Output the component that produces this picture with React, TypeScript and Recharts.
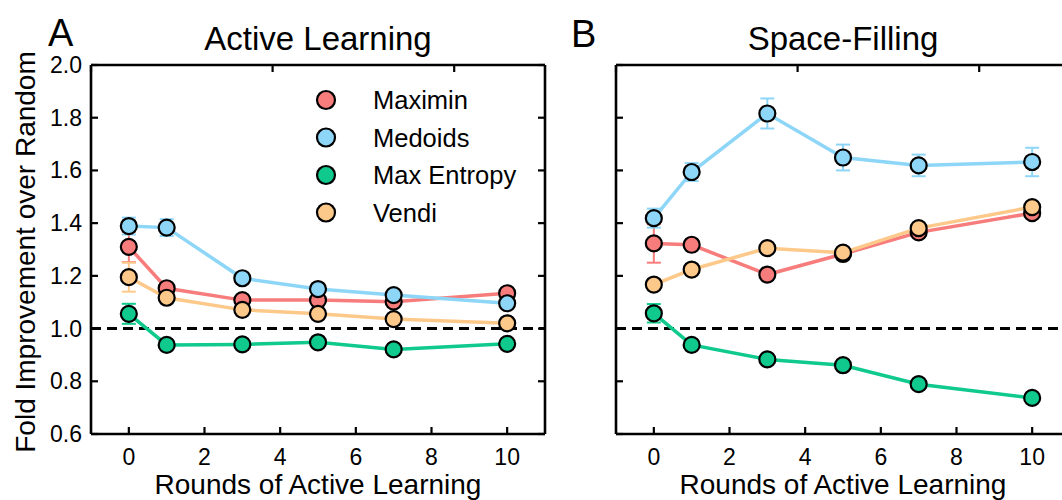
import React from 'react';
import { LineChart, Line, XAxis, YAxis, ReferenceLine, ErrorBar } from 'recharts';

const rounds = [0, 1, 3, 5, 7, 10];
const seriesNames = ['Maximin', 'Medoids', 'Max Entropy', 'Vendi'];
const seriesKeys = ['maximin', 'medoids', 'maxEntropy', 'vendi'];
const seriesColors = ['#F77C7C', '#8DD6F7', '#0FC98D', '#FDC98A'];
const xTicks = [0, 2, 4, 6, 8, 10];
const yTicks = [0.6, 0.8, 1.0, 1.2, 1.4, 1.6, 1.8, 2.0];
const panelTitles = ['Active Learning', 'Space-Filling'];
const panelLetters = ['A', 'B'];
const xLabel = 'Rounds of Active Learning';
const yLabel = 'Fold Improvement over Random';

// Panel A: Active Learning
const alMaximin = [1.31, 1.153, 1.108, 1.108, 1.102, 1.134];
const alMaximinErr = [0.058, 0.01, 0.008, 0.008, 0.008, 0.008];
const alMedoids = [1.389, 1.383, 1.191, 1.15, 1.127, 1.096];
const alMedoidsErr = [0.032, 0.032, 0.01, 0.01, 0.01, 0.01];
const alMaxEntropy = [1.056, 0.938, 0.94, 0.948, 0.921, 0.942];
const alMaxEntropyErr = [0.038, 0.01, 0.01, 0.01, 0.01, 0.01];
const alVendi = [1.195, 1.117, 1.071, 1.056, 1.036, 1.02];
const alVendiErr = [0.055, 0.01, 0.008, 0.008, 0.008, 0.008];

// Panel B: Space-Filling
const sfMaximin = [1.323, 1.318, 1.205, 1.283, 1.365, 1.438];
const sfMaximinErr = [0.073, 0.01, 0.01, 0.01, 0.01, 0.01];
const sfMedoids = [1.419, 1.594, 1.816, 1.649, 1.619, 1.632];
const sfMedoidsErr = [0.036, 0.034, 0.057, 0.049, 0.041, 0.054];
const sfMaxEntropy = [1.058, 0.938, 0.883, 0.861, 0.789, 0.737];
const sfMaxEntropyErr = [0.035, 0.01, 0.01, 0.01, 0.01, 0.01];
const sfVendi = [1.167, 1.224, 1.305, 1.288, 1.381, 1.461];
const sfVendiErr = [0.02, 0.01, 0.01, 0.01, 0.01, 0.01];

const buildRows = (vals: number[][], errs: number[][]) =>
  rounds.map((r, i) => {
    const row: any = { round: r };
    seriesKeys.forEach((k, s) => {
      row[k] = vals[s][i];
      row[k + 'Err'] = errs[s][i];
    });
    return row;
  });

const alRows = buildRows(
  [alMaximin, alMedoids, alMaxEntropy, alVendi],
  [alMaximinErr, alMedoidsErr, alMaxEntropyErr, alVendiErr]
);
const sfRows = buildRows(
  [sfMaximin, sfMedoids, sfMaxEntropy, sfVendi],
  [sfMaximinErr, sfMedoidsErr, sfMaxEntropyErr, sfVendiErr]
);

const FONT = '"Liberation Sans", Arial, Helvetica, sans-serif';
const TICK_LEN = 7;
const TICK_W = 2.2;
const TICK_FONT = 23;

const BottomTick = (props: any) => {
  const { x, y, payload } = props;
  return (
    <g>
      <line x1={x} x2={x} y1={y} y2={y - TICK_LEN} stroke="#000" strokeWidth={TICK_W} />
      <text x={x} y={y + 31} textAnchor="middle" fontSize={TICK_FONT} fill="#000" fontFamily={FONT}>
        {payload.value}
      </text>
    </g>
  );
};

const TopTick = (props: any) => {
  const { x, y } = props;
  return <line x1={x} x2={x} y1={y} y2={y + TICK_LEN} stroke="#000" strokeWidth={TICK_W} />;
};

const LeftTickLabeled = (props: any) => {
  const { x, y, payload } = props;
  return (
    <g>
      <line x1={x} x2={x + TICK_LEN} y1={y} y2={y} stroke="#000" strokeWidth={TICK_W} />
      <text x={x - 9} y={y + 8} textAnchor="end" fontSize={TICK_FONT} fill="#000" fontFamily={FONT}>
        {Number(payload.value).toFixed(1)}
      </text>
    </g>
  );
};

const LeftTickPlain = (props: any) => {
  const { x, y } = props;
  return <line x1={x} x2={x + TICK_LEN} y1={y} y2={y} stroke="#000" strokeWidth={TICK_W} />;
};

const RightTick = (props: any) => {
  const { x, y } = props;
  return <line x1={x} x2={x - TICK_LEN} y1={y} y2={y} stroke="#000" strokeWidth={TICK_W} />;
};

const axisLineStyle = { stroke: '#000', strokeWidth: 2.6 };

const Panel = ({ rows, showYLabels, width, margin }: any) => (
  <LineChart width={width} height={500} data={rows} margin={margin}>
    <XAxis
      dataKey="round"
      type="number"
      domain={[-1, 11]}
      ticks={xTicks}
      interval={0}
      allowDataOverflow
      height={40}
      tickSize={0}
      tickMargin={0}
      tickLine={false}
      axisLine={axisLineStyle}
      tick={(p: any) => <BottomTick {...p} />}
    />
    <XAxis
      xAxisId="top"
      orientation="top"
      type="number"
      domain={[-1, 11]}
      ticks={xTicks}
      interval={0}
      allowDataOverflow
      height={5}
      tickSize={0}
      tickMargin={0}
      tickLine={false}
      axisLine={axisLineStyle}
      tick={(p: any) => <TopTick {...p} />}
    />
    <YAxis
      type="number"
      domain={[0.6, 2.0]}
      ticks={yTicks}
      interval={0}
      allowDataOverflow
      width={60}
      tickSize={0}
      tickMargin={0}
      tickLine={false}
      axisLine={axisLineStyle}
      tick={(p: any) => (showYLabels ? <LeftTickLabeled {...p} /> : <LeftTickPlain {...p} />)}
    />
    <YAxis
      yAxisId="right"
      orientation="right"
      type="number"
      domain={[0.6, 2.0]}
      ticks={yTicks}
      interval={0}
      allowDataOverflow
      width={5}
      tickSize={0}
      tickMargin={0}
      tickLine={false}
      axisLine={axisLineStyle}
      tick={(p: any) => <RightTick {...p} />}
    />
    <ReferenceLine y={1} stroke="#000" strokeWidth={3} strokeDasharray="10 6" />
    {seriesKeys.map((k, s) => (
      <Line
        key={k}
        dataKey={k}
        type="linear"
        stroke={seriesColors[s]}
        strokeWidth={3.5}
        dot={{ r: 8, fill: seriesColors[s], stroke: '#000', strokeWidth: 2.2 }}
        activeDot={false}
        isAnimationActive={false}
      >
        <ErrorBar
          dataKey={k + 'Err'}
          width={7}
          strokeWidth={2}
          stroke={seriesColors[s]}
          direction="y"
          isAnimationActive={false}
        />
      </Line>
    ))}
  </LineChart>
);

export default function App() {
  const legendY = [100, 137.5, 175, 212.5];
  return (
    <div
      style={{
        position: 'absolute',
        left: 0,
        top: 0,
        width: 1062,
        height: 500,
        overflow: 'hidden',
        background: '#fff',
        fontFamily: FONT,
      }}
    >
      <div style={{ position: 'absolute', left: 0, top: 0 }}>
        <Panel
          rows={alRows}
          showYLabels
          width={600}
          margin={{ top: 60, left: 31, right: 50, bottom: 26 }}
        />
      </div>
      <div style={{ position: 'absolute', left: 540, top: 0 }}>
        <Panel
          rows={sfRows}
          showYLabels={false}
          width={580}
          margin={{ top: 60, left: 16, right: 45, bottom: 26 }}
        />
      </div>
      <svg
        width={1062}
        height={500}
        style={{ position: 'absolute', left: 0, top: 0, pointerEvents: 'none' }}
        fontFamily={FONT}
      >
        <text x={48} y={46} fontSize={38} fill="#000">{panelLetters[0]}</text>
        <text x={571} y={47} fontSize={38} fill="#000">{panelLetters[1]}</text>
        <text x={318} y={50} fontSize={33} fill="#000" textAnchor="middle">{panelTitles[0]}</text>
        <text x={843} y={50} fontSize={33} fill="#000" textAnchor="middle">{panelTitles[1]}</text>
        <text x={318} y={494} fontSize={28} fill="#000" textAnchor="middle">{xLabel}</text>
        <text x={843} y={494} fontSize={28} fill="#000" textAnchor="middle">{xLabel}</text>
        <text
          x={35}
          y={252}
          fontSize={28}
          fill="#000"
          textAnchor="middle"
          transform="rotate(-90 35 252)"
        >
          {yLabel}
        </text>
        {seriesNames.map((n, i) => (
          <g key={n}>
            <circle cx={326} cy={legendY[i]} r={9} fill={seriesColors[i]} stroke="#000" strokeWidth={2.2} />
            <text x={373} y={legendY[i] + 9} fontSize={25.5} fill="#000">{n}</text>
          </g>
        ))}
      </svg>
    </div>
  );
}
